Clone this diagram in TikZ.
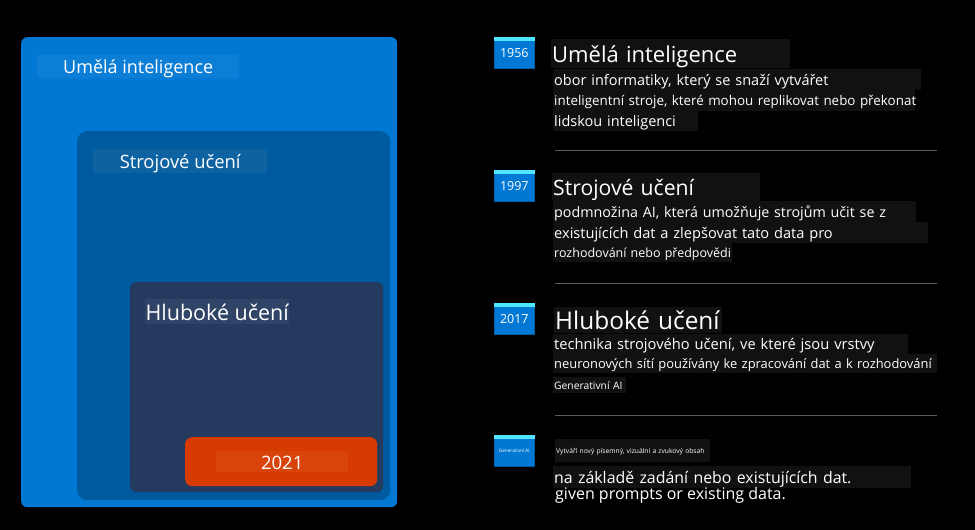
\documentclass[tikz,border=0pt]{standalone}
\usepackage{fontspec}
\setmainfont{Open Sans}
\usepackage{xcolor}
\usetikzlibrary{positioning}
\definecolor{aiblue}{RGB}{0, 120, 212}
\definecolor{mlblue}{RGB}{0, 90, 158}
\definecolor{dlnavy}{RGB}{36, 58, 94}
\definecolor{genorange}{RGB}{216, 59, 1}
\definecolor{badgecyan}{RGB}{80, 230, 255}
\definecolor{badgeedge}{RGB}{0, 95, 170}
\definecolor{linebg}{RGB}{17, 17, 17}
\definecolor{rulegray}{RGB}{95, 95, 95}

\tikzset{
  levelbox/.style={anchor=north west, rounded corners=6pt, inner sep=0pt},
  levellabel/.style={anchor=north west, fill=white, fill opacity=0.05,
                     text opacity=1, text=white, inner sep=0pt, text depth=0pt},
  yearbadge/.style={anchor=north west, fill=aiblue, draw=badgeedge, line width=0.6pt,
                    minimum width=40pt, minimum height=31pt, inner sep=0pt, text=white},
  headline/.style={anchor=north west, fill=linebg, text=white, text depth=0pt,
                   inner xsep=1pt, inner ysep=0pt, align=left},
  splitrule/.style={draw=rulegray, line width=1pt}
}

\begin{document}
\begin{tikzpicture}[x=1pt, y=-1pt]
    % background and page size
    \fill[black] (0,0) rectangle (975,530);
    \useasboundingbox (0,0) rectangle (975,530);

    % nested boxes
    \node[levelbox, fill=aiblue, minimum width=376pt, minimum height=470pt] (ai) at (21,37) {};
    \node[levelbox, fill=mlblue, minimum width=313pt, minimum height=369pt, rounded corners=10pt] (ml) at (77,131) {};
    \node[levelbox, fill=dlnavy, minimum width=253pt, minimum height=210pt] (dl) at (130,282) {};
    \node[levelbox, fill=genorange, minimum width=192pt, minimum height=49pt, rounded corners=7pt] (gen) at (185,437) {};

    \node[levellabel, minimum width=202pt, minimum height=23pt,
          font=\fontsize{18}{18}\selectfont] (ailabel) at (37,55) {Umělá inteligence};
    \node[levellabel, minimum width=174pt, minimum height=24pt,
          font=\fontsize{18.4}{18}\selectfont] (mllabel) at (93,149) {Strojové učení};
    \node[levellabel, minimum width=144pt, minimum height=25pt,
          font=\fontsize{21.5}{21}\selectfont] (dllabel) at (145,299) {\raisebox{-2pt}{Hluboké učení}};
    \node[levellabel, minimum width=132pt, minimum height=21pt,
          font=\fontsize{18.5}{18}\selectfont] (genlabel) at (216,451) {\raisebox{-2pt}{2021}};

    % year badges
    \foreach \yr/\ypos/\fsize/\txt in {1956/37/12.5/1956, 1997/170/12.5/1997,
                                        2017/303/12.5/2017, gen/435/4.7/Generativní AI} {
        \node[yearbadge, font=\fontsize{\fsize}{\fsize}\selectfont] (b\yr) at (494,\ypos)
            {\raisebox{-3pt}{\txt}};
        \fill[badgecyan] (b\yr.north west) rectangle ([yshift=-4pt]b\yr.north east);
    }

    % Umělá inteligence
    \node[headline, text width=237pt, minimum height=29pt, font=\fontsize{22}{24}\selectfont]
        (t1956) at (551,39) {\mbox{Umělá inteligence}};
    \node[headline, text width=366pt, minimum height=21pt, font=\fontsize{14.5}{16}\selectfont]
        (d1956a) at (553,69) {\mbox{obor informatiky, který se snaží vytvářet}};
    \node[headline, text width=360pt, minimum height=21pt, font=\fontsize{13.4}{15}\selectfont]
        (d1956b) at (553,90) {\mbox{inteligentní stroje, které mohou replikovat nebo překonat}};
    \node[headline, text width=143pt, minimum height=20pt, font=\fontsize{14.5}{16}\selectfont]
        (d1956c) at (553,111) {\mbox{lidskou inteligenci}};
    \draw[splitrule] (555,150) -- (937,150);

    % Strojové učení
    \node[headline, text width=206pt, minimum height=28pt, font=\fontsize{21.2}{23}\selectfont]
        (t1997) at (552,173) {\mbox{Strojové učení}};
    \node[headline, text width=361pt, minimum height=21pt, font=\fontsize{14.3}{16}\selectfont]
        (d1997a) at (553,201) {\mbox{podmnožina AI, která umožňuje strojům učit se z}};
    \node[headline, text width=373pt, minimum height=21pt, font=\fontsize{14.6}{16}\selectfont]
        (d1997b) at (553,222) {\mbox{existujících dat a zlepšovat tato data pro}};
    \node[headline, text width=177pt, minimum height=19pt, font=\fontsize{12.5}{14}\selectfont]
        (d1997c) at (553,243) {\mbox{rozhodování nebo předpovědi}};
    \draw[splitrule] (555,283) -- (937,283);

    % Hluboké učení
    \node[headline, text width=166pt, minimum height=26pt, font=\fontsize{24.4}{26}\selectfont]
        (t2017) at (554,307) {\mbox{Hluboké učení}};
    \node[headline, text width=353pt, minimum height=20pt, font=\fontsize{14.7}{16}\selectfont]
        (d2017a) at (553,334) {\mbox{technika strojového učení, ve které jsou vrstvy}};
    \node[headline, text width=382pt, minimum height=19pt, font=\fontsize{12.9}{15}\selectfont]
        (d2017b) at (553,354) {\mbox{neuronových sítí používány ke zpracování dat a k rozhodování}};
    \node[headline, text width=71pt, minimum height=16pt, font=\fontsize{10.3}{12}\selectfont]
        (d2017c) at (553,377) {\mbox{Generativní AI}};
    \draw[splitrule] (555,415) -- (937,415);

    % Generativní AI
    \node[headline, text width=153pt, minimum height=23pt, font=\fontsize{6.7}{8}\selectfont]
        (dgena) at (555,439) {\mbox{Vytváří nový písemný, vizuální a zvukový obsah}};
    \node[headline, text width=356pt, minimum height=22pt, font=\fontsize{15.9}{18}\selectfont]
        (dgenb) at (553,466) {\mbox{na základě zadání nebo existujících dat.}};
    \node[anchor=north west, text=white, inner xsep=1pt, inner ysep=0pt, font=\fontsize{16}{18}\selectfont]
        (dgenc) at (554,487) {given prompts or existing data.};
\end{tikzpicture}
\end{document}
